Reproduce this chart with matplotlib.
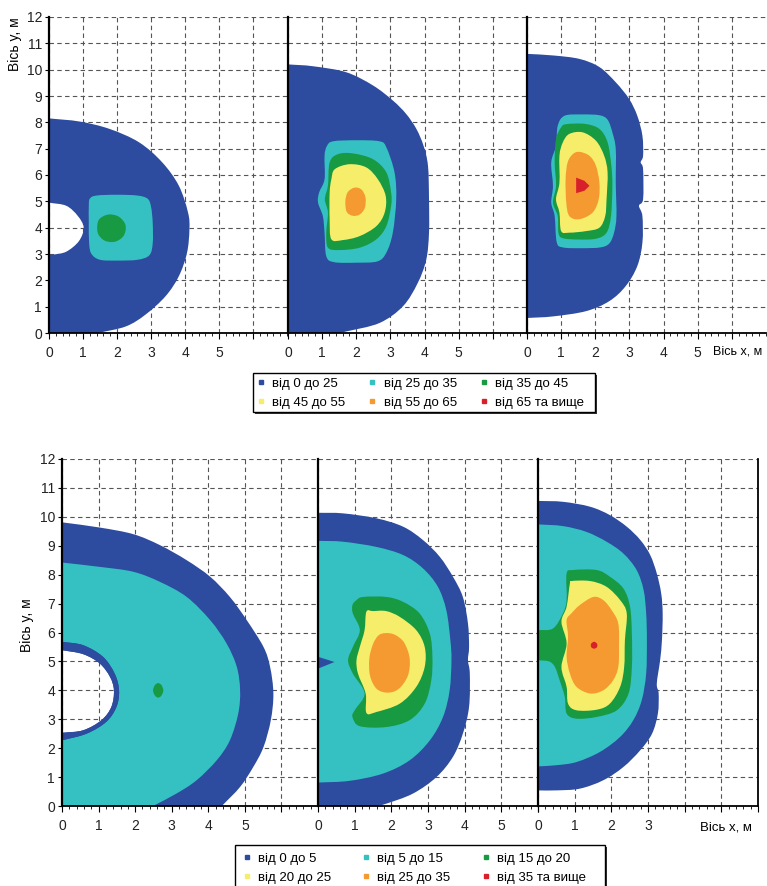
import numpy as np
import matplotlib
matplotlib.use('Agg')
import matplotlib.pyplot as plt
from matplotlib.path import Path
from matplotlib.patches import PathPatch, Rectangle
from matplotlib.lines import Line2D
from matplotlib.ticker import MultipleLocator

plt.rcParams['font.family'] = ['Liberation Sans', 'DejaVu Sans']

# кольори зон
zone_colors = ['#2D4B9F', '#35C0C1', '#189A43', '#F6EE6B', '#F59A31', '#D7202A']

top_labels = ['від 0 до 25', 'від 25 до 35', 'від 35 до 45',
              'від 45 до 55', 'від 55 до 65', 'від 65 та вище']
bottom_labels = ['від 0 до 5', 'від 5 до 15', 'від 15 до 20',
                 'від 20 до 25', 'від 25 до 35', 'від 35 та вище']

# ---- верхній ряд, панель 1 (контури зон, м)
t1_blue = [(0, 8.15), (0.9, 8.03), (1.78, 7.75), (2.65, 7.24), (3.33, 6.48), (3.82, 5.59),
           (4.09, 4.57), (4.13, 3.94), (4.06, 3.05), (3.82, 2.16), (3.43, 1.4), (2.84, 0.7),
           (2.26, 0.25), (1.44, 0), (0, 0)]
t1_hole = [(0, 4.95), (0.51, 4.83), (0.85, 4.44), (1.02, 4.0), (0.88, 3.49), (0.51, 3.09),
           (0.13, 2.98), (0, 2.98)]
t1_cyan = [(1.2, 5.1), (1.4, 5.22), (2.0, 5.25), (2.6, 5.22), (2.9, 5.1), (3.0, 4.8), (3.05, 4.2),
           (3.05, 3.4), (2.95, 2.95), (2.6, 2.78), (2.0, 2.75), (1.5, 2.78), (1.25, 3.0),
           (1.18, 3.4), (1.17, 4.2), (1.17, 4.8)]
t1_green = [(1.75, 4.5), (2.05, 4.42), (2.25, 4.1), (2.2, 3.7), (1.95, 3.47), (1.65, 3.5),
            (1.45, 3.75), (1.42, 4.1), (1.5, 4.35)]

# ---- верхній ряд, панель 2
t2_blue = [(0, 10.2), (0.73, 10.13), (1.71, 9.9), (2.49, 9.4), (3.07, 8.83), (3.46, 8.32),
           (3.76, 7.75), (3.97, 7.11), (4.1, 6.35), (4.13, 5.08), (4.13, 3.81), (4.05, 2.79),
           (3.8, 1.9), (3.37, 1.02), (2.68, 0.38), (1.71, 0.06), (1.51, 0), (0, 0)]
t2_cyan = [(1.07, 6.73), (1.14, 7.1), (1.32, 7.28), (2.0, 7.32), (2.68, 7.28), (2.88, 7.05),
           (3.12, 6.1), (3.17, 5.08), (3.07, 3.81), (2.88, 3.05), (2.62, 2.72), (2.0, 2.67),
           (1.35, 2.69), (1.12, 2.92), (1.07, 3.81), (1.02, 4.44), (0.88, 4.95), (0.91, 5.33),
           (1.07, 5.84)]
t2_green = [(1.22, 6.48), (1.46, 6.79), (1.9, 6.82), (2.49, 6.6), (2.88, 6.1), (3.02, 5.33),
            (3.02, 4.83), (2.88, 4.06), (2.59, 3.56), (2.1, 3.24), (1.51, 3.15), (1.17, 3.24),
            (1.12, 3.81), (1.17, 4.57), (1.08, 5.08), (1.17, 5.6)]
t2_yellow = [(1.37, 6.22), (1.8, 6.41), (2.29, 6.29), (2.63, 5.84), (2.86, 5.21), (2.83, 4.57),
             (2.59, 4.06), (2.1, 3.68), (1.61, 3.53), (1.27, 3.56), (1.22, 4.32), (1.22, 5.33),
             (1.27, 5.84)]
t2_orange = [(1.95, 5.52), (2.15, 5.45), (2.27, 5.15), (2.25, 4.75), (2.1, 4.5), (1.9, 4.45),
             (1.72, 4.6), (1.68, 5.0), (1.75, 5.35)]

# ---- верхній ряд, панель 3
t3_blue = [(0, 10.6), (0.76, 10.54), (1.53, 10.41), (2.12, 10.1), (2.6, 9.52), (2.99, 8.89),
           (3.23, 8.25), (3.38, 7.49), (3.4, 6.73), (3.33, 6.48), (3.4, 6.22), (3.4, 5.08),
           (3.28, 4.83), (3.38, 4.44), (3.38, 3.43), (3.23, 2.54), (2.89, 1.78), (2.41, 1.21),
           (1.73, 0.83), (0.76, 0.63), (0, 0.57)]
t3_cyan = [(0.9, 7.87), (1.1, 8.25), (1.6, 8.3), (2.12, 8.27), (2.36, 8.1), (2.5, 7.62),
           (2.6, 6.98), (2.6, 5.71), (2.62, 4.44), (2.55, 3.81), (2.41, 3.4), (2.15, 3.25),
           (1.6, 3.22), (1.05, 3.25), (0.87, 3.45), (0.81, 4.44), (0.71, 4.95), (0.76, 5.59),
           (0.71, 6.48), (0.85, 7.11)]
t3_green = [(1.0, 7.81), (1.15, 7.93), (1.7, 7.94), (2.12, 7.75), (2.36, 7.24), (2.47, 6.35),
            (2.5, 5.59), (2.46, 4.44), (2.33, 3.81), (2.02, 3.58), (1.5, 3.55), (1.05, 3.6),
            (0.92, 3.8), (0.9, 4.44), (0.76, 4.95), (0.85, 5.59), (0.81, 6.48), (0.85, 7.37)]
t3_yellow = [(1.05, 7.24), (1.24, 7.56), (1.63, 7.62), (2.02, 7.3), (2.26, 6.73), (2.36, 6.1),
             (2.33, 5.08), (2.29, 4.44), (2.12, 4.0), (1.73, 3.87), (1.24, 3.81), (1.0, 3.87),
             (0.95, 4.57), (0.85, 5.08), (0.95, 5.71), (0.95, 6.73)]
t3_orange = [(1.34, 6.79), (1.53, 6.88), (1.83, 6.73), (2.02, 6.35), (2.12, 5.71), (2.1, 5.08),
             (1.92, 4.57), (1.53, 4.32), (1.24, 4.44), (1.15, 4.95), (1.13, 5.84), (1.19, 6.48)]
t3_red = [(1.44, 5.9), (1.68, 5.78), (1.83, 5.59), (1.68, 5.4), (1.44, 5.31)]

# ---- нижній ряд, панель 1
b1_blue = [(0, 9.81), (1.03, 9.63), (1.95, 9.4), (2.68, 9.02), (3.41, 8.5), (4.05, 7.93),
           (4.59, 7.23), (5.05, 6.43), (5.51, 5.5), (5.69, 4.81), (5.78, 3.89), (5.71, 2.97),
           (5.51, 2.04), (5.23, 1.35), (4.87, 0.66), (4.37, 0), (0, 0)]
b1_cyan = [(0, 8.42), (1.03, 8.27), (1.95, 8.1), (2.68, 7.75), (3.41, 7.23), (4.05, 6.43),
           (4.5, 5.62), (4.78, 4.81), (4.87, 4.0), (4.82, 3.2), (4.59, 2.27), (4.23, 1.58),
           (3.68, 0.89), (3.13, 0.43), (2.49, 0), (0, 0)]
b1_ring = [(0, 5.68), (0.58, 5.56), (1.12, 5.16), (1.44, 4.58), (1.56, 4.0), (1.49, 3.43),
           (1.21, 2.91), (0.67, 2.5), (0, 2.27)]
b1_hole = [(0, 5.39), (0.58, 5.25), (1.03, 4.93), (1.31, 4.47), (1.42, 4.0), (1.35, 3.43),
           (1.08, 2.97), (0.58, 2.62), (0, 2.53)]
b1_green = [(2.63, 4.25), (2.72, 4.18), (2.77, 4.0), (2.72, 3.82), (2.63, 3.75), (2.54, 3.82),
            (2.49, 4.0), (2.54, 4.18)]

# ---- нижній ряд, панель 2
b2_blue = [(0, 10.14), (0.68, 10.12), (1.59, 9.95), (2.32, 9.66), (2.86, 9.2), (3.32, 8.62),
           (3.68, 7.93), (3.95, 7.23), (4.09, 6.31), (4.12, 5.5), (4.09, 5.04), (4.14, 4.58),
           (4.12, 3.43), (3.95, 2.5), (3.68, 1.7), (3.23, 1.0), (2.59, 0.43), (1.86, 0.08),
           (1.59, 0), (0, 0)]
b2_cyan = [(0, 9.17), (0.68, 9.14), (1.59, 8.96), (2.32, 8.68), (2.86, 8.22), (3.27, 7.58),
           (3.5, 6.77), (3.61, 5.73), (3.64, 5.04), (3.59, 4.0), (3.41, 3.08), (3.05, 2.27),
           (2.5, 1.58), (1.77, 1.12), (0.86, 0.87), (0, 0.81)]
b2_notch = [(0, 5.16), (0.45, 4.98), (0, 4.75)]
b2_green = [(0.94, 6.95), (1.05, 7.12), (1.23, 7.23), (1.86, 7.23), (2.32, 7.06), (2.77, 6.66),
            (3.05, 5.96), (3.12, 5.16), (3.09, 4.35), (2.91, 3.54), (2.5, 2.97), (1.86, 2.73),
            (1.14, 2.76), (0.94, 3.08), (1.0, 3.31), (1.27, 3.89), (0.95, 4.58), (0.82, 5.04),
            (0.95, 5.5), (1.14, 6.08), (0.95, 6.66)]
b2_yellow = [(1.32, 6.72), (1.5, 6.74), (1.86, 6.74), (2.23, 6.54), (2.68, 6.08), (2.91, 5.5),
             (2.91, 4.81), (2.68, 4.12), (2.23, 3.54), (1.59, 3.25), (1.32, 3.22), (1.3, 3.89),
             (1.09, 4.58), (1.05, 5.04), (1.14, 5.5), (1.27, 6.08)]
b2_orange = [(1.85, 5.98), (2.1, 5.92), (2.35, 5.65), (2.5, 5.1), (2.45, 4.5), (2.2, 4.05),
             (1.9, 3.92), (1.6, 4.05), (1.42, 4.5), (1.4, 5.1), (1.5, 5.6), (1.65, 5.9)]

# ---- нижній ряд, панель 3
b3_blue = [(0, 10.55), (0.68, 10.52), (1.42, 10.35), (1.96, 10.06), (2.42, 9.66), (2.79, 9.2),
           (3.06, 8.68), (3.24, 8.04), (3.36, 7.35), (3.4, 6.66), (3.38, 5.73), (3.33, 5.04),
           (3.24, 4.23), (3.29, 3.89), (3.27, 3.2), (3.11, 2.5), (2.79, 1.93), (2.33, 1.35),
           (1.78, 0.89), (1.14, 0.6), (0.5, 0.54), (0, 0.54)]
b3_cyan = [(0, 9.74), (0.68, 9.68), (1.32, 9.48), (1.87, 9.14), (2.33, 8.73), (2.69, 8.16),
           (2.88, 7.47), (2.95, 6.66), (2.97, 5.73), (2.95, 4.58), (2.83, 3.66), (2.6, 2.97),
           (2.24, 2.39), (1.69, 1.87), (1.05, 1.52), (0.5, 1.41), (0, 1.37)]
b3_green = [(0.78, 8.04), (0.96, 8.16), (1.6, 8.16), (1.96, 7.93), (2.33, 7.52), (2.51, 6.89),
            (2.56, 5.96), (2.56, 4.81), (2.47, 3.89), (2.15, 3.31), (1.6, 3.08), (1.05, 3.02),
            (0.78, 3.2), (0.73, 3.77), (0.59, 4.35), (0.46, 4.81), (0.3, 5.0), (0, 5.04),
            (0, 6.08), (0.41, 6.14), (0.68, 6.66), (0.78, 7.12)]
b3_yellow = [(0.78, 6.89), (0.87, 7.7), (0.91, 7.78), (1.42, 7.78), (1.87, 7.58), (2.24, 7.12),
             (2.42, 6.66), (2.37, 5.73), (2.35, 4.81), (2.24, 4.12), (1.96, 3.54), (1.6, 3.33),
             (1.05, 3.31), (0.82, 3.54), (0.78, 4.12), (0.64, 4.81), (0.78, 5.62), (0.64, 6.37)]
b3_orange = [(1.14, 6.95), (1.51, 7.23), (1.78, 7.12), (2.01, 6.77), (2.19, 6.31), (2.21, 5.5),
             (2.19, 4.81), (2.05, 4.35), (1.78, 4.0), (1.42, 3.89), (1.05, 4.12), (0.87, 4.58),
             (0.78, 5.16), (0.82, 5.85), (0.78, 6.43), (0.91, 6.66)]
b3_red = [(1.53, 5.68), (1.6, 5.63), (1.62, 5.56), (1.6, 5.48), (1.53, 5.44), (1.46, 5.48),
          (1.44, 5.56), (1.46, 5.63)]


def signed_area(a):
    x, y = a[:, 0], a[:, 1]
    return 0.5 * np.sum(x * np.roll(y, -1) - np.roll(x, -1) * y)


def outline(pts, ccw, smooth=True):
    # контур через виміряні точки; ділянки вздовж осей - прямі, решта - плавні криві
    P = np.asarray(pts, float)
    if (signed_area(P) > 0) != ccw:
        P = P[::-1]
    n = len(P)
    on_axis = (P[:, 0] == 0) | (P[:, 1] == 0)
    straight = [(not smooth) or (on_axis[i] and on_axis[(i + 1) % n]) for i in range(n)]
    T = np.zeros_like(P)
    for i in range(n):
        prev_s, next_s = straight[i - 1], straight[i]
        if prev_s and not next_s:
            T[i] = P[(i + 1) % n] - P[i]
        elif next_s and not prev_s:
            T[i] = P[i] - P[i - 1]
        else:
            T[i] = (P[(i + 1) % n] - P[i - 1]) / 2
    verts, codes = [P[0]], [Path.MOVETO]
    for i in range(n):
        j = (i + 1) % n
        if straight[i]:
            verts.append(P[j])
            codes.append(Path.LINETO)
        else:
            verts += [P[i] + T[i] / 3, P[j] - T[j] / 3, P[j]]
            codes += [Path.CURVE4] * 3
    verts.append(P[0])
    codes.append(Path.CLOSEPOLY)
    return Path(verts, codes)


def zone(ax, pts, color, hole=None, smooth=True):
    path = outline(pts, True, smooth)
    if hole is not None:
        path = Path.make_compound_path(path, outline(hole, False))
    ax.add_patch(PathPatch(path, facecolor=color, edgecolor='none', lw=0, zorder=2))


panels = [
    # (left, bottom, width, height, xmax, xlabels, zones)
    (49, 333, 238, 316, 7, ['0', '1', '2', '3', '4', '5', ''],
     [(t1_blue, 0, t1_hole, True), (t1_cyan, 1, None, True), (t1_green, 2, None, True)]),
    (288, 333, 239, 316, 7, ['0', '1', '2', '3', '4', '5', ''],
     [(t2_blue, 0, None, True), (t2_cyan, 1, None, True), (t2_green, 2, None, True),
      (t2_yellow, 3, None, True), (t2_orange, 4, None, True)]),
    (527, 333, 239, 316, 7, ['0', '1', '2', '3', '4', '5', ''],
     [(t3_blue, 0, None, True), (t3_cyan, 1, None, True), (t3_green, 2, None, True),
      (t3_yellow, 3, None, True), (t3_orange, 4, None, True), (t3_red, 5, None, False)]),
    (62, 806, 256, 347, 7, ['0', '1', '2', '3', '4', '5', ''],
     [(b1_blue, 0, b1_hole, True), (b1_cyan, 1, b1_ring, True), (b1_ring, 0, b1_hole, True),
      (b1_green, 2, None, True)]),
    (318, 806, 220, 347, 6, ['0', '1', '2', '3', '4', '5', ''],
     [(b2_blue, 0, None, True), (b2_cyan, 1, None, True), (b2_notch, 0, None, False),
      (b2_green, 2, None, True), (b2_yellow, 3, None, True), (b2_orange, 4, None, True)]),
    (538, 806, 220, 347, 6, ['0', '1', '2', '3', '', '', ''],
     [(b3_blue, 0, None, True), (b3_cyan, 1, None, True), (b3_green, 2, None, True),
      (b3_yellow, 3, None, True), (b3_orange, 4, None, True), (b3_red, 5, None, True)]),
]

W, H = 767, 886
fig = plt.figure(figsize=(W / 100, H / 100), dpi=100)

for i, (l, b, w, h, xmax, xlabels, zones) in enumerate(panels):
    ax = fig.add_axes([l / W, 1 - b / H, w / W, h / H])
    for pts, ci, hole, smooth in zones:
        zone(ax, pts, zone_colors[ci], hole, smooth)
    ax.set_xlim(0, xmax)
    ax.set_ylim(0, 12)
    ax.set_xticks(range(0, 7))
    ax.set_xticklabels(xlabels)
    ax.set_yticks(range(0, 13))
    ax.xaxis.set_minor_locator(MultipleLocator(0.2))
    ax.grid(True, color='#555555', ls=(0, (4, 3)), lw=0.8)
    ax.set_axisbelow(True)
    ax.spines['top'].set_visible(False)
    ax.spines['right'].set_visible(i == 5)
    for s in ['left', 'bottom', 'right']:
        ax.spines[s].set_color('black')
    ax.spines['left'].set_linewidth(1.6)
    ax.spines['bottom'].set_linewidth(1.3)
    ax.spines['right'].set_linewidth(1.3)
    ax.tick_params(axis='x', which='major', direction='out', length=4, pad=5,
                   labelsize=10, colors='black', labelcolor='#222222')
    ax.tick_params(axis='x', which='minor', direction='out', length=2.5)
    if i in (0, 3):
        ax.tick_params(axis='y', direction='out', length=3, pad=2, labelsize=10,
                       labelcolor='#222222')
    else:
        ax.tick_params(axis='y', length=0, labelleft=False)

# підписи осей
fig.text(15 / W, 1 - 17 / H, 'Вісь y, м', rotation=90, ha='center', va='top', fontsize=10)
fig.text(27 / W, 1 - 625 / H, 'Вісь y, м', rotation=90, ha='center', va='center', fontsize=10)
fig.text(713 / W, 1 - 351 / H, 'Вісь x, м', ha='left', va='center', fontsize=9)
fig.text(700 / W, 1 - 828 / H, 'Вісь x, м', ha='left', va='center', fontsize=9.5)


def legend(labels, x, y, colsp, box):
    # рамка з тінню
    bx0, by0, bx1, by1 = box
    fig.add_artist(Rectangle(((bx0 + 2) / W, 1 - (by1 + 2) / H), (bx1 - bx0) / W,
                             (by1 - by0) / H, transform=fig.transFigure,
                             facecolor='#333333', edgecolor='none', zorder=4))
    fig.add_artist(Rectangle((bx0 / W, 1 - by1 / H), (bx1 - bx0) / W, (by1 - by0) / H,
                             transform=fig.transFigure, facecolor='white',
                             edgecolor='black', lw=1.0, zorder=4.1))
    hs = [Line2D([], [], ls='none', marker='s', ms=3, mfc=c, mec=c) for c in zone_colors]
    order = [0, 3, 1, 4, 2, 5]
    leg = fig.legend([hs[k] for k in order], [labels[k] for k in order], ncol=3,
                     loc='upper left', bbox_to_anchor=(x / W, 1 - y / H), frameon=False,
                     fontsize=9.5, handlelength=0.5, handletextpad=0.6,
                     columnspacing=colsp, borderpad=0.35, labelspacing=0.5,
                     borderaxespad=0)
    leg.set_zorder(5)


legend(top_labels, 253, 373, 1.8, (253, 373, 595, 412))
legend(bottom_labels, 239, 848, 2.4, (235, 845, 605, 892))

fig.savefig('out.png', dpi=100)
